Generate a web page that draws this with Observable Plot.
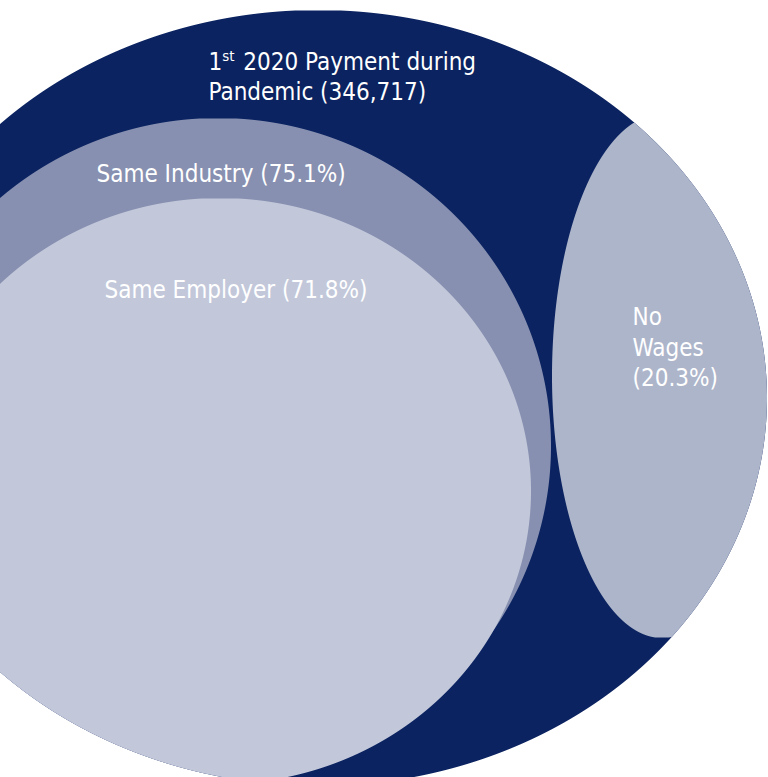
<!DOCTYPE html>
<html>
<head>
<meta charset="utf-8">
<script src="https://cdn.jsdelivr.net/npm/d3@7"></script>
<script src="https://cdn.jsdelivr.net/npm/@observablehq/plot@0.6"></script>
<style>
  html, body { margin: 0; padding: 0; background: #ffffff; overflow: hidden; }
  #chart svg { display: block; }
</style>
</head>
<body>
<div id="chart"></div>
<script>
// ---- Data ----
const groups = ["1st 2020 Payment during\nPandemic", "Same Industry", "Same Employer", "No\nWages"];
const groupValues = ["346,717", "75.1%", "71.8%", "20.3%"];

// ---- Layout (diagram geometry in frame units, label placement, styles) ----
const W = 768, H = 777;
const shapes = [
  {cx: 318, cy: 398, rx: 449, ry: 388},  // outer: all payments
  {cx: 218, cy: 446, rx: 333, ry: 328},  // same industry
  {cx: 220, cy: 491, rx: 311, ry: 293},  // same employer
  {cx: 662, cy: 376, rx: 110, ry: 262}   // no wages
];
const fills = ["#0b2360", "#8790b0", "#c2c8da", "#adb5ca"];
const labelSep = [" ", " ", " ", "\n"];
const labelPos = [
  {x: 208, y: 49, lh: 1.22},
  {x: 96, y: 161, lh: 1.2},
  {x: 104, y: 277, lh: 1.2},
  {x: 632, y: 303, lh: 1.27}
];
const FONT = 24;

// half-width of an ellipse at a given y
function halfWidth(s, y) {
  const t = (y - s.cy) / s.ry;
  return t * t >= 1 ? 0 : s.rx * Math.sqrt(1 - t * t);
}

// build horizontal spans for each region, clipped to the outer ellipse
const outer = shapes[0];
const regions = shapes.map((s, i) => {
  const rows = [];
  const y0 = s.cy - s.ry, y1 = s.cy + s.ry;
  const step = 0.5;
  for (let y = y0; y <= y1 + 1e-9; y += step) {
    const hw = halfWidth(s, y);
    const ohw = halfWidth(outer, y);
    let a = s.cx - hw, b = s.cx + hw;
    if (i > 0) { a = Math.max(a, outer.cx - ohw); b = Math.min(b, outer.cx + ohw); }
    if (b > a) rows.push({y, x1: a, x2: b, group: groups[i]});
  }
  return rows;
});

const labels = groups.map((g, i) => ({
  text: `${g}${labelSep[i]}(${groupValues[i]})`,
  x: labelPos[i].x,
  y: labelPos[i].y,
  lh: labelPos[i].lh
}));

const marks = regions.map((rows, i) =>
  Plot.areaX(rows, {y: "y", x1: "x1", x2: "x2", fill: fills[i], clip: true})
);
labels.forEach(l => {
  marks.push(Plot.text([l], {
    x: "x", y: "y", text: "text",
    textAnchor: "start", lineAnchor: "top", lineHeight: l.lh,
    fontSize: FONT, fill: "#ffffff",
    fontFamily: "'DejaVu Sans Condensed', 'DejaVu Sans', sans-serif"
  }));
});

const chart = Plot.plot({
  width: W, height: H,
  margin: 0,
  x: {domain: [0, W], range: [0, W], axis: null},
  y: {domain: [0, H], range: [0, H], axis: null},
  style: {background: "#ffffff", fontStretch: "condensed"},
  marks
});

// superscript "st" in the first label
d3.select(chart).selectAll("tspan").each(function() {
  const t = this.textContent;
  if (t.startsWith("1st ")) {
    const el = d3.select(this);
    el.text("1");
    el.append("tspan").attr("baseline-shift", "super").attr("font-size", "62%").text("st");
    el.append("tspan").attr("dx", "2").text(t.slice(3));
  }
});

document.getElementById("chart").appendChild(chart);
</script>
</body>
</html>
